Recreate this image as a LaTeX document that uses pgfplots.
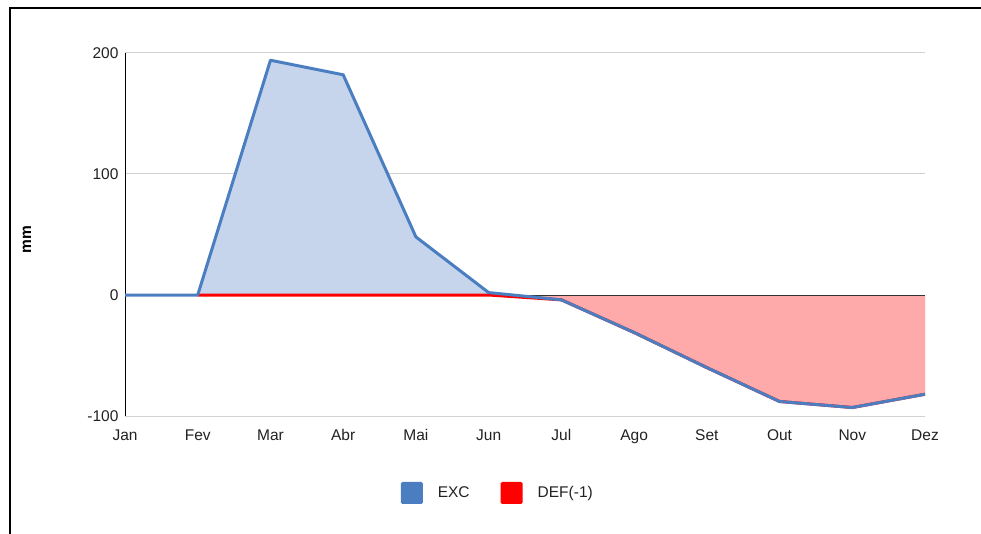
\documentclass[border=0pt]{standalone}
\usepackage{pgfplots}
\pgfplotsset{compat=1.18}
\usepackage{fontspec}
\setmainfont{Liberation Sans}
\definecolor{excline}{RGB}{74,126,193}
\definecolor{excfill}{RGB}{198,213,235}
\definecolor{defline}{RGB}{255,0,0}
\definecolor{deffill}{RGB}{255,170,170}
\definecolor{gridc}{RGB}{210,210,210}
\definecolor{txt}{RGB}{34,34,34}
\begin{document}
\begin{tikzpicture}
\useasboundingbox (0pt,0pt) rectangle (981pt,533pt);
\fill[white] (0pt,0pt) rectangle (981pt,533pt);
\draw[line width=2pt, line cap=rect] (9.5pt,0pt) -- (9.5pt,525pt) -- (981pt,525pt);
\begin{axis}[
  at={(125pt,117pt)}, anchor=south west,
  width=800pt, height=363pt, scale only axis,
  xmin=0, xmax=11, ymin=-100, ymax=200,
  xtick={0,...,11},
  xticklabels={Jan,Fev,Mar,Abr,Mai,Jun,Jul,Ago,Set,Out,Nov,Dez},
  ytick={-100,0,100,200},
  ymajorgrids, grid style={gridc, line width=1pt},
  extra y ticks={0}, extra y tick labels={},
  extra y tick style={grid style={black!80, line width=0.8pt}},
  major tick length=0pt,
  axis x line*=bottom, axis y line*=left,
  x axis line style={gridc, line width=1pt, -},
  y axis line style={black, line width=1pt, -},
  /pgf/number format/assume math mode=true,
  tick label style={font=\fontsize{15.5}{18}\selectfont, text=txt},
  yticklabel style={xshift=-3pt},
  xticklabel style={yshift=-10pt},
  ylabel={\textbf{mm}},
  ylabel style={at={(axis description cs:-0.1225,0.485)}, anchor=center, font=\fontsize{15.5}{18}\selectfont, text=black},
  legend style={at={(0.466,-0.212)}, anchor=center, draw=none, fill=none,
    legend columns=2, font=\fontsize{15.5}{18}\selectfont, text=txt,
    /tikz/every even column/.append style={column sep=29pt}},
  legend cell align=left,
  clip=false,
]
% EXC area (light blue)
\addplot[fill=excfill, draw=none, forget plot] coordinates {
 (0,0) (1,0) (2,194) (3,182) (4,48) (5,2) (6,-4) (7,-31) (8,-60) (9,-88) (10,-93) (11,-82) (11,0)} \closedcycle;
% DEF area (pink)
\addplot[fill=deffill, draw=none, forget plot] coordinates {
 (1,0) (2,0) (3,0) (4,0) (5,0) (6,-4) (7,-31) (8,-60) (9,-88) (10,-93) (11,-82) (11,0)} \closedcycle;
% zero baseline
\addplot[black!80, line width=0.8pt, forget plot] coordinates {(0,0) (11,0)};
% DEF line
\addplot[defline, line width=3pt, forget plot] coordinates {
 (1,0) (2,0) (3,0) (4,0) (5,0) (6,-4) (7,-31) (8,-60) (9,-88) (10,-93) (11,-82)};
% EXC line
\addplot[excline, line width=3pt, line join=round, forget plot] coordinates {
 (0,0) (1,0) (2,194) (3,182) (4,48) (5,2) (6,-4) (7,-31) (8,-60) (9,-88) (10,-93) (11,-82)};
\addlegendimage{legend image code/.code={\path[draw=none,fill=none] (0pt,0pt) -- (35pt,0pt); \fill[excline, draw=none, rounded corners=1.5pt] (0pt,-11pt) rectangle (22pt,11pt);}}
\addlegendentry{EXC}
\addlegendimage{legend image code/.code={\path[draw=none,fill=none] (0pt,0pt) -- (35pt,0pt); \fill[defline, draw=none, rounded corners=1.5pt] (0pt,-11pt) rectangle (22pt,11pt);}}
\addlegendentry{DEF(-1)}
\end{axis}
\end{tikzpicture}
\end{document}
